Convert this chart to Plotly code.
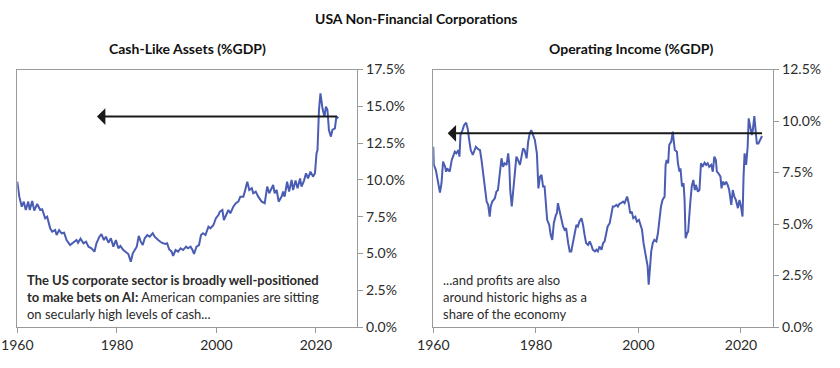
import plotly.graph_objects as go

# ---------------- data ----------------
cash_years = [1960.0, 1960.4, 1960.9, 1961.3, 1961.7, 1962.2, 1962.5, 1963.0, 1963.4, 1964.0,
              1964.6, 1965.0, 1965.6, 1966.0, 1966.6, 1967.0, 1967.6, 1967.9, 1968.4, 1968.9,
              1969.4, 1969.9, 1970.6, 1971.2, 1971.9, 1972.2, 1972.7, 1973.3, 1973.8, 1974.3,
              1974.9, 1975.5, 1975.9, 1976.5, 1976.9, 1977.4, 1977.8, 1978.3, 1978.8, 1979.3,
              1979.8, 1980.3, 1980.7, 1981.3, 1981.8, 1982.3, 1982.8, 1983.2, 1983.6, 1984.0,
              1984.4, 1984.8, 1985.2, 1985.6, 1986.1, 1986.6, 1987.2, 1987.6, 1988.3, 1989.0,
              1989.7, 1990.1, 1990.5, 1991.0, 1991.3, 1991.8, 1992.3, 1992.8, 1993.3, 1993.9,
              1994.3, 1994.8, 1995.2, 1995.5, 1996.0, 1996.5, 1996.9, 1997.3, 1997.8, 1998.4,
              1998.8, 1999.4, 1999.9, 2000.4, 2000.7, 2001.2, 2001.5, 2002.0, 2002.4, 2002.8,
              2003.4, 2003.9, 2004.4, 2004.8, 2005.4, 2005.7, 2006.2, 2006.6, 2007.1, 2007.4,
              2007.9, 2008.4, 2009.1, 2009.7, 2010.2, 2010.6, 2011.1, 2011.4, 2011.7, 2012.1,
              2012.5, 2013.1, 2013.4, 2013.7, 2014.2, 2014.6, 2015.1, 2015.4, 2015.9, 2016.3,
              2016.8, 2017.1, 2017.6, 2018.0, 2018.4, 2018.9, 2019.4, 2019.8, 2020.1, 2020.3,
              2020.6, 2020.9, 2021.3, 2021.7, 2022.0, 2022.3, 2022.6, 2023.0, 2023.3, 2023.8,
              2024.1, 2024.5]
cash_values = [9.88, 8.86, 8.18, 8.52, 7.95, 8.52, 7.95, 8.57, 7.91, 8.36,
               7.95, 8.00, 7.39, 7.50, 6.71, 6.48, 6.59, 6.25, 6.59, 6.37,
               6.41, 5.91, 5.57, 5.73, 5.91, 5.73, 6.00, 5.69, 5.80, 5.46,
               5.35, 5.12, 5.69, 6.14, 6.32, 5.91, 6.14, 5.73, 6.03, 5.46,
               5.91, 5.35, 5.51, 5.23, 5.12, 4.96, 4.44, 5.01, 5.23, 5.46,
               6.19, 5.80, 5.57, 6.03, 6.25, 6.14, 6.37, 6.14, 5.91, 5.73,
               5.64, 5.69, 5.28, 5.12, 4.83, 5.23, 5.12, 5.35, 5.23, 5.46,
               5.35, 5.46, 5.23, 4.96, 5.46, 5.57, 6.25, 6.37, 6.25, 6.82,
               6.71, 6.93, 7.39, 7.61, 7.84, 7.95, 7.27, 7.61, 7.95, 7.73,
               8.18, 8.41, 8.52, 8.86, 8.86, 9.20, 9.88, 9.31, 9.43, 9.09,
               9.20, 8.86, 8.52, 8.41, 9.54, 9.09, 9.43, 9.65, 9.09, 9.31,
               8.52, 8.86, 9.20, 8.86, 9.88, 9.20, 9.99, 9.31, 9.95, 9.43,
               10.10, 9.54, 9.95, 10.45, 10.10, 10.56, 10.22, 10.45, 11.80, 12.00,
               14.75, 15.88, 14.86, 14.30, 14.98, 14.75, 13.39, 12.94, 13.39, 13.50,
               14.30, 14.18]

income_years = [1960.0, 1960.1, 1960.5, 1961.0, 1961.3, 1961.6, 1961.9, 1962.3, 1962.5, 1962.7,
                1963.0, 1963.2, 1963.6, 1963.9, 1964.2, 1964.5, 1964.9, 1965.1, 1965.3, 1965.7,
                1966.0, 1966.4, 1966.7, 1967.0, 1967.3, 1967.7, 1968.0, 1968.3, 1968.8, 1969.1,
                1969.4, 1969.7, 1970.1, 1970.4, 1970.7, 1971.0, 1971.2, 1971.5, 1972.0, 1972.3,
                1972.6, 1973.0, 1973.3, 1973.6, 1973.9, 1974.3, 1974.6, 1974.8, 1975.0, 1975.3,
                1975.6, 1975.9, 1976.2, 1976.5, 1976.9, 1977.2, 1977.5, 1977.8, 1978.2, 1978.5,
                1978.8, 1979.1, 1979.5, 1979.8, 1980.1, 1980.2, 1980.5, 1980.8, 1981.1, 1981.4,
                1981.7, 1981.9, 1982.2, 1982.6, 1982.9, 1983.2, 1983.5, 1983.9, 1984.1, 1984.3,
                1984.6, 1985.0, 1985.3, 1985.6, 1985.9, 1986.3, 1986.6, 1986.9, 1987.2, 1987.6,
                1987.9, 1988.2, 1988.5, 1988.9, 1989.2, 1989.5, 1989.8, 1990.2, 1990.5, 1990.8,
                1991.1, 1991.5, 1991.8, 1992.1, 1992.4, 1992.8, 1993.1, 1993.4, 1993.7, 1994.0,
                1994.4, 1994.7, 1995.0, 1995.3, 1995.7, 1996.0, 1996.3, 1996.6, 1997.0, 1997.3,
                1997.6, 1997.8, 1998.1, 1998.4, 1998.7, 1999.0, 1999.4, 1999.7, 2000.1, 2000.3,
                2000.7, 2001.0, 2001.2, 2001.5, 2001.8, 2002.0, 2002.3, 2002.5, 2002.8, 2003.1,
                2003.5, 2003.8, 2004.1, 2004.4, 2004.7, 2005.1, 2005.3, 2005.5, 2005.8, 2006.0,
                2006.4, 2006.7, 2006.9, 2007.1, 2007.5, 2007.7, 2008.0, 2008.2, 2008.5, 2008.8,
                2009.0, 2009.2, 2009.5, 2009.7, 2010.1, 2010.4, 2010.7, 2011.0, 2011.2, 2011.6,
                2011.9, 2012.2, 2012.5, 2012.9, 2013.2, 2013.5, 2013.8, 2014.2, 2014.5, 2014.8,
                2015.1, 2015.3, 2015.6, 2016.0, 2016.2, 2016.5, 2016.8, 2017.1, 2017.4, 2017.7,
                2018.1, 2018.4, 2018.7, 2019.0, 2019.4, 2019.7, 2020.0, 2020.3, 2020.5, 2020.7,
                2021.0, 2021.3, 2021.5, 2021.8, 2022.1, 2022.3, 2022.6, 2022.9, 2023.1, 2023.4,
                2023.7, 2024.1]
income_values = [8.75, 7.87, 7.62, 6.98, 6.52, 6.98, 8.03, 7.78, 7.54, 7.70,
                 7.62, 7.54, 8.11, 8.27, 8.51, 8.43, 8.59, 8.27, 9.32, 9.56,
                 9.80, 9.92, 9.64, 9.08, 8.59, 8.35, 8.59, 8.75, 8.62, 8.59,
                 8.11, 7.46, 6.82, 6.09, 5.93, 5.36, 5.85, 6.09, 6.25, 6.57,
                 6.65, 7.38, 8.19, 7.78, 7.95, 7.87, 8.43, 7.95, 6.65, 5.85,
                 6.65, 7.54, 8.27, 8.11, 7.87, 8.27, 8.67, 8.59, 8.19, 9.00,
                 9.40, 9.56, 9.32, 9.08, 8.59, 8.43, 6.73, 7.30, 7.38, 6.82,
                 6.82, 6.17, 5.20, 4.96, 4.47, 4.23, 5.04, 5.44, 5.52, 6.01,
                 5.68, 5.20, 4.88, 4.72, 4.80, 4.07, 3.67, 3.67, 4.07, 4.72,
                 4.96, 4.88, 5.12, 5.28, 4.96, 4.47, 4.07, 3.99, 4.15, 3.99,
                 3.75, 3.67, 3.75, 3.67, 3.91, 3.75, 4.07, 4.15, 4.47, 4.88,
                 5.04, 5.52, 5.85, 5.85, 5.93, 5.85, 5.98, 6.01, 6.09, 6.01,
                 6.17, 6.33, 6.01, 5.52, 5.60, 5.28, 5.36, 5.12, 5.20, 5.04,
                 4.72, 4.07, 3.75, 3.42, 2.94, 2.05, 2.94, 3.67, 4.07, 4.23,
                 4.15, 4.55, 5.20, 5.85, 6.17, 6.33, 7.87, 8.11, 7.95, 8.83,
                 9.00, 9.48, 9.00, 8.59, 8.51, 7.95, 7.54, 7.70, 6.82, 6.98,
                 6.17, 4.31, 4.55, 4.63, 6.01, 6.82, 7.14, 6.65, 6.90, 6.57,
                 6.65, 7.95, 7.78, 7.98, 7.87, 7.95, 7.78, 7.87, 7.54, 8.27,
                 8.11, 7.54, 7.46, 7.30, 6.73, 7.06, 6.90, 7.06, 6.90, 6.65,
                 5.93, 6.65, 6.33, 6.17, 5.77, 6.17, 5.85, 5.36, 7.30, 8.43,
                 7.87, 8.75, 10.13, 9.72, 9.32, 9.56, 10.24, 9.40, 8.91, 8.91,
                 9.08, 9.27]

# arrows: [tail year, head year, level]
cash_arrow = [2024.5, 1976.0, 14.3]
income_arrow = [2024.4, 1962.8, 9.4]

x_ticks = [1960, 1980, 2000, 2020]
cash_y_ticks = [0, 2.5, 5, 7.5, 10, 12.5, 15, 17.5]
income_y_ticks = [0, 2.5, 5, 7.5, 10, 12.5]

main_title = "USA Non-Financial Corporations"
left_title = "Cash-Like Assets (%GDP)"
right_title = "Operating Income (%GDP)"
left_note = ["<b>The US corporate sector is broadly well-positioned</b>",
             "<b>to make bets on AI:</b> American companies are sitting",
             "on secularly high levels of cash..."]
right_note = ["...and profits are also",
              "around historic highs as a",
              "share of the economy"]

# ---------------- figure ----------------
W, H = 840, 368
LINE = "#4a5db3"
FONT = "Lato"
TXT = "#2b2b2b"
BOX = "#9a9a9a"


def px_x(p):
    return p / W


def px_y(p):
    return 1 - p / H


def pct(vals):
    return [f"{v:.1f}%" for v in vals]


fig = go.Figure()
fig.add_trace(go.Scatter(x=cash_years, y=cash_values, mode="lines",
                         line=dict(color=LINE, width=2), xaxis="x", yaxis="y",
                         hoverinfo="skip", showlegend=False))
fig.add_trace(go.Scatter(x=income_years, y=income_values, mode="lines",
                         line=dict(color=LINE, width=2), xaxis="x2", yaxis="y2",
                         hoverinfo="skip", showlegend=False))

xcommon = dict(tickmode="array", tickvals=x_ticks, ticktext=[str(t) for t in x_ticks],
               ticks="outside", ticklen=5, tickcolor=BOX, showline=True, linecolor=BOX,
               linewidth=1, mirror=True, showgrid=False, zeroline=False, automargin=False,
               ticklabeloverflow="allow",
               tickfont=dict(family=FONT, size=14, color=TXT))
ycommon = dict(side="right", ticks="outside", ticklen=5, tickcolor=BOX, showline=True,
               linecolor=BOX, linewidth=1, mirror=True, showgrid=False, zeroline=False,
               tickmode="array", automargin=False, ticklabeloverflow="allow",
               tickfont=dict(family=FONT, size=14, color=TXT))

ydom = [px_y(327), px_y(69.5)]
fig.update_layout(
    template="none",
    width=W, height=H,
    margin=dict(l=0, r=0, t=0, b=0, pad=0, autoexpand=False),
    paper_bgcolor="white", plot_bgcolor="white",
    showlegend=False,
    xaxis=dict(domain=[px_x(17.3), px_x(357.3)], range=[1960, 2028.3], anchor="y", **xcommon),
    yaxis=dict(domain=ydom, range=[0, 17.5], anchor="x", tickvals=cash_y_ticks,
               ticktext=pct(cash_y_ticks), **ycommon),
    xaxis2=dict(domain=[px_x(433.3), px_x(773.3)], range=[1960, 2026.3], anchor="y2", **xcommon),
    yaxis2=dict(domain=ydom, range=[0, 12.5], anchor="x2", tickvals=income_y_ticks,
                ticktext=pct(income_y_ticks), **ycommon),
)

ann = []
ann.append(dict(text="<b>" + main_title + "</b>", x=px_x(416), y=px_y(18), xref="paper", yref="paper",
                xanchor="center", yanchor="middle", showarrow=False,
                font=dict(family=FONT, size=14, color="#111")))
ann.append(dict(text="<b>" + left_title + "</b>", x=px_x(187), y=px_y(48), xref="paper", yref="paper",
                xanchor="center", yanchor="middle", showarrow=False,
                font=dict(family=FONT, size=14, color="#111")))
ann.append(dict(text="<b>" + right_title + "</b>", x=px_x(631), y=px_y(48), xref="paper", yref="paper",
                xanchor="center", yanchor="middle", showarrow=False,
                font=dict(family=FONT, size=14, color="#111")))
ann.append(dict(text="<br>".join(left_note), x=px_x(25), y=px_y(297), xref="paper", yref="paper",
                xanchor="left", yanchor="middle", align="left", showarrow=False,
                font=dict(family=FONT, size=13, color=TXT)))
ann.append(dict(text="<br>".join(right_note), x=px_x(441), y=px_y(297), xref="paper", yref="paper",
                xanchor="left", yanchor="middle", align="left", showarrow=False,
                font=dict(family=FONT, size=13, color=TXT)))

for arrow, xr, yr in [(cash_arrow, "x", "y"), (income_arrow, "x2", "y2")]:
    ann.append(dict(text="", x=arrow[1], y=arrow[2], ax=arrow[0], ay=arrow[2],
                    xref=xr, yref=yr, axref=xr, ayref=yr, showarrow=True,
                    arrowhead=1, arrowsize=1.4, arrowwidth=2, arrowcolor="#1a1a1a"))

fig.update_layout(annotations=ann)
fig.write_html("out.html", config={"displayModeBar": False},
               post_script="document.body.style.margin='0';document.body.style.overflow='hidden';")
